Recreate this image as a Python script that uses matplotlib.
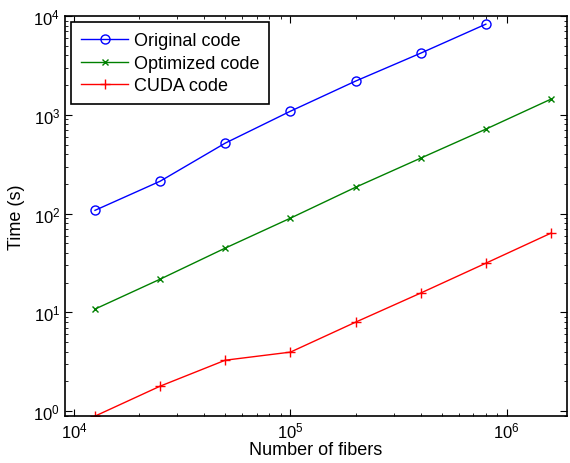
import numpy as np
import matplotlib.pyplot as plt

plt.rcParams['font.family'] = ['Liberation Sans', 'DejaVu Sans']
plt.rcParams['mathtext.fontset'] = 'custom'
plt.rcParams['mathtext.rm'] = 'Liberation Sans'
plt.rcParams['mathtext.it'] = 'Liberation Sans:italic'

# dane
fibers = [12500, 25000, 50000, 100000, 200000, 400000, 800000, 1600000]
original = [108, 213, 518, 1090, 2200, 4220, 8300]
optimized = [10.8, 21.7, 44.8, 90, 185, 365, 718, 1445]
cuda = [0.89, 1.79, 3.28, 3.96, 7.96, 15.7, 31.5, 63.5]

fig = plt.figure(figsize=(5.7, 4.64), dpi=100)
ax = fig.add_axes([0.114, 0.101, 0.881, 0.862])

ax.loglog(fibers[:len(original)], original, '-o', color='#0000ff', lw=1,
          ms=6.5, mfc='none', mew=1, label='Original code')
ax.loglog(fibers, optimized, '-x', color='#008000', lw=1,
          ms=4.5, mew=1, label='Optimized code')
ax.loglog(fibers, cuda, '-+', color='#ff0000', lw=1,
          ms=6.5, mew=1, label='CUDA code')

ax.set_xlim(9085, 1.9e6)
ax.set_ylim(0.89, 1e4)

ax.set_xlabel('Number of fibers', fontsize=13, labelpad=0)
ax.set_ylabel('Time (s)', fontsize=13, labelpad=6)

ax.tick_params(which='both', direction='in', top=True, right=True, labelsize=12)
ax.tick_params(which='major', length=5)
ax.tick_params(which='minor', length=2.5)
for s in ax.spines.values():
    s.set_linewidth(1.2)

leg = ax.legend(loc='upper left', fontsize=13, fancybox=False, edgecolor='black',
                framealpha=1, borderaxespad=0.35, handlelength=2.6,
                handletextpad=0.3, labelspacing=0.3, borderpad=0.55)
leg.get_frame().set_linewidth(1.2)

plt.savefig('out.png', dpi=100)
